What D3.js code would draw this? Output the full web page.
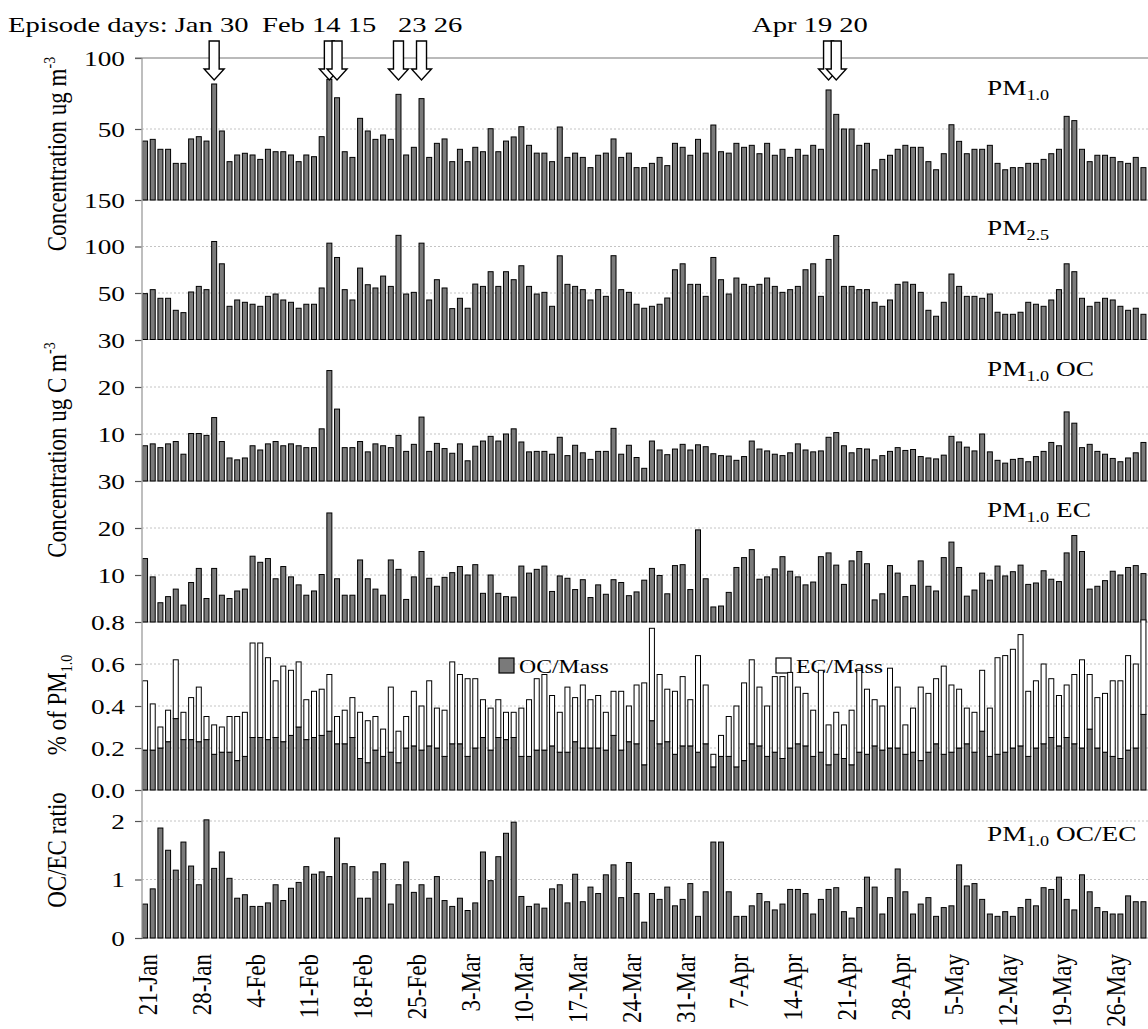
<!DOCTYPE html>
<html lang="en">
<head>
<meta charset="utf-8" />
<title>PM1.0 daily series</title>
<style>
  body { margin: 0; background: #fff; }
  svg text { font-family: "Liberation Serif", "Times New Roman", serif; fill: #000; }
</style>
</head>
<body>
<script src="https://d3js.org/d3.v7.min.js"></script>
<div id="chart"></div>
<script>
// daily values, 21 Jan .. 30 May
const pm10 = [
  41.5, 42.7, 35.7, 35.7, 25.8, 25.8, 43, 44.6, 41.5, 81.7,
  48.6, 27, 31.7, 32.9, 31.7, 28.6, 35.7, 34, 34, 31.7,
  27, 31.7, 30.5, 44.6, 85, 72, 34, 30, 57.5, 48.6,
  42.7, 45.8, 42.7, 74.4, 31.7, 37.1, 71.4, 30, 39.9, 43,
  27, 35.7, 27, 37.1, 34, 50.2, 34, 41.5, 44.4, 51.6,
  38.5, 33, 33, 27, 51.4, 30, 33, 30, 22.8, 31.5,
  33, 43, 30, 33, 22.8, 22.8, 25.8, 30, 24.2, 39.9,
  37.1, 31.5, 42.7, 33, 52.8, 34, 33, 39.9, 37.1, 38.5,
  32.6, 39.9, 31.5, 35.7, 30, 35.7, 31.5, 38.5, 35.7, 77.5,
  60.3, 50, 50, 38.5, 39.9, 21.3, 28.6, 31.5, 35.7, 38.5,
  37.1, 37.1, 27, 21.3, 32.6, 53, 41.3, 32.6, 35.7, 35.7,
  38.5, 25.8, 21.3, 22.8, 22.8, 25.8, 25.8, 28.6, 32.6, 35.7,
  58.9, 55.9, 35.7, 27, 31.5, 31.5, 30, 27, 25.8, 30,
  22.8
];
const pm25 = [
  49.3, 53.6, 44.3, 44.3, 31.4, 28.9, 51.1, 57.1, 53.6, 105.4,
  81.4, 35.7, 42.5, 40, 37.9, 35.7, 46.4, 48.9, 42.5, 40,
  33.6, 37.9, 37.9, 55.4, 103.6, 88.2, 53.6, 42.5, 76.8, 58.9,
  55.4, 68.2, 57.1, 112, 48.9, 50.7, 103.6, 42.5, 64.3, 55.4,
  33.2, 44.3, 33.6, 59.6, 57.1, 72.9, 57.1, 72.9, 64.3, 79.3,
  57.1, 48.9, 50.7, 35.7, 90, 59.3, 57.1, 53.6, 42.5, 53.6,
  46.4, 90.1, 53.6, 50.7, 37.9, 33.6, 35.7, 37.9, 44.6, 75,
  81.4, 59.3, 59.3, 46.4, 88.2, 64.3, 48.9, 66.1, 59.3, 57.1,
  59.3, 66.1, 57.1, 50.7, 53.6, 57.1, 75, 81.4, 46.4, 86.1,
  111.8, 57.1, 57.1, 53.6, 53.6, 40, 35.7, 42.5, 59.3, 61.8,
  59.3, 50.7, 31.4, 25, 40, 70.4, 57.1, 46.4, 46.4, 44.3,
  48.9, 29.3, 27.1, 27.1, 29.3, 40, 37.9, 35.7, 42.5, 53.6,
  81.4, 72.9, 44.3, 35.7, 40, 44.3, 42.5, 35.7, 31.4, 33.6,
  27.1
];
const oc = [
  7.5, 7.9, 7.1, 7.9, 8.4, 5.7, 10.1, 10.1, 9.7, 13.5,
  8.4, 4.9, 4.5, 4.9, 7.5, 6.6, 7.9, 8.4, 7.5, 7.9,
  7.5, 7.1, 7.1, 11.1, 23.5, 15.3, 7.1, 7.1, 8.4, 6.2,
  7.9, 7.5, 7.1, 9.7, 6.3, 7.8, 13.6, 6.3, 8.0, 6.9,
  5.9, 7.9, 4.3, 7.4, 8.5, 9.5, 8.5, 10.0, 11.1, 8.3,
  6.2, 6.3, 6.3, 5.7, 9.3, 5.4, 7.6, 6.0, 4.6, 6.3,
  6.3, 11.2, 5.7, 7.6, 5.0, 2.7, 8.5, 6.6, 5.6, 6.8,
  7.8, 6.6, 7.7, 7.3, 5.8, 5.4, 5.3, 4.4, 5.2, 8.5,
  6.8, 6.4, 5.7, 5.4, 6.0, 7.9, 6.6, 6.2, 6.4, 9.3,
  10.3, 7.5, 6.0, 6.9, 6.8, 4.5, 5.4, 6.3, 7.1, 6.5,
  6.7, 5.2, 4.9, 4.7, 5.5, 9.5, 8.3, 7.2, 6.4, 10.0,
  6.2, 4.4, 3.8, 4.6, 4.8, 4.1, 5.2, 6.3, 8.2, 7.5,
  14.7, 12.3, 7.1, 7.8, 6.3, 5.7, 4.8, 4.1, 4.9, 6.0,
  8.2
];
const ec = [
  13.5, 9.6, 4.1, 5.4, 7.0, 3.6, 8.4, 11.4, 5.0, 11.4,
  5.7, 5.0, 6.6, 7.0, 14.0, 12.7, 13.5, 9.2, 11.8, 9.6,
  7.9, 5.7, 6.6, 10.1, 23.2, 9.2, 5.7, 5.7, 13.2, 9.2,
  7.0, 5.7, 13.2, 11.2, 4.8, 9.6, 15.0, 9.3, 7.6, 9.5,
  10.5, 11.8, 10.0, 12.2, 6.1, 10.0, 6.1, 5.4, 5.3, 11.9,
  10.4, 11.2, 11.9, 6.5, 9.8, 9.3, 6.9, 9.0, 5.2, 7.9,
  5.9, 9.0, 8.4, 5.6, 6.4, 8.9, 11.4, 9.9, 6.0, 12.0,
  12.2, 6.9, 19.6, 9.2, 3.2, 3.4, 6.3, 11.6, 13.7, 15.4,
  9.1, 9.6, 11.3, 13.9, 10.8, 9.6, 7.9, 8.5, 13.9, 14.7,
  12.1, 8.0, 13.0, 15.0, 12.4, 4.7, 6.0, 12.0, 10.4, 5.4,
  7.8, 13.0, 7.6, 6.6, 13.7, 17.0, 11.6, 5.5, 6.8, 10.4,
  8.9, 11.9, 9.8, 10.7, 12.1, 8.0, 8.3, 10.9, 9.1, 8.6,
  14.7, 18.4, 15.0, 7.0, 7.6, 8.8, 10.8, 10.0, 11.6, 12.0,
  10.3
];
const ocMass = [
  .19, .19, .20, .23, .34, .24, .24, .23, .24, .17,
  .18, .18, .14, .16, .25, .25, .24, .25, .23, .26,
  .30, .24, .25, .26, .28, .22, .22, .25, .15, .13,
  .19, .16, .18, .13, .20, .21, .19, .21, .20, .16,
  .22, .22, .16, .20, .25, .19, .25, .24, .25, .16,
  .16, .19, .19, .21, .18, .18, .23, .20, .20, .20,
  .19, .26, .19, .23, .22, .12, .33, .22, .23, .17,
  .21, .21, .18, .22, .11, .16, .16, .11, .14, .22,
  .21, .16, .18, .15, .20, .22, .21, .16, .18, .12,
  .17, .15, .12, .18, .17, .21, .19, .20, .20, .17,
  .18, .14, .18, .22, .17, .18, .20, .22, .18, .28,
  .16, .17, .18, .20, .21, .16, .20, .22, .25, .21,
  .25, .22, .20, .29, .20, .18, .16, .15, .19, .20,
  .36
];
const ecMass = [
  .33, .22, .10, .15, .28, .13, .20, .26, .11, .14,
  .12, .17, .21, .21, .45, .45, .39, .27, .36, .31,
  .31, .19, .22, .22, .27, .13, .16, .19, .22, .20,
  .16, .13, .31, .15, .15, .26, .21, .31, .19, .22,
  .39, .33, .37, .33, .18, .20, .18, .13, .12, .23,
  .27, .34, .36, .24, .19, .31, .21, .30, .23, .25,
  .18, .21, .28, .17, .28, .39, .44, .33, .25, .30,
  .33, .22, .46, .28, .06, .10, .19, .29, .37, .40,
  .28, .24, .36, .39, .36, .27, .25, .22, .39, .19,
  .20, .16, .26, .39, .31, .22, .21, .38, .29, .14,
  .21, .35, .28, .31, .42, .32, .28, .17, .19, .29,
  .23, .46, .46, .47, .53, .31, .32, .38, .28, .24,
  .25, .33, .42, .26, .24, .28, .36, .37, .45, .40,
  .45
];
const ocEcRatio = [
  .58, .84, 1.88, 1.50, 1.16, 1.64, 1.23, .91, 2.02, 1.19,
  1.47, 1.02, .68, .74, .54, .54, .60, .91, .64, .85,
  .95, 1.22, 1.09, 1.13, 1.05, 1.71, 1.27, 1.22, .68, .68,
  1.13, 1.27, .58, .91, 1.30, .78, .91, .68, 1.05, .64,
  .54, .68, .47, .60, 1.47, .98, 1.39, 1.79, 1.98, .71,
  .54, .58, .51, .84, .91, .60, 1.09, .62, .87, .76,
  1.08, 1.25, .69, 1.29, .76, .27, .76, .66, .87, .55,
  .66, .93, .37, .79, 1.64, 1.64, .79, .37, .37, .55,
  .76, .62, .48, .58, .83, .83, .76, .41, .66, .83,
  .86, .45, .34, .52, 1.04, .87, .41, .69, 1.18, .79,
  .41, .58, .69, .37, .52, .55, 1.25, .89, .93, .66,
  .41, .37, .45, .37, .52, .66, .55, .86, .83, 1.04,
  .66, .48, 1.08, .79, .52, .45, .41, .41, .72, .62,
  .62
];

// date ticks every 7 days starting at the first bar
const dateLabels = ["21-Jan", "28-Jan", "4-Feb", "11-Feb", "18-Feb", "25-Feb", "3-Mar",
  "10-Mar", "17-Mar", "24-Mar", "31-Mar", "7-Apr", "14-Apr", "21-Apr", "28-Apr",
  "5-May", "12-May", "19-May", "26-May"];

// episode days (index of the bar) and the header texts
const episodeDays = [9, 24, 25, 33, 36, 89, 90];
const episodeTexts = [
  {text: "Episode days: Jan 30", x: 8},
  {text: "Feb 14 15", x: 262},
  {text: "23 26", x: 398},
  {text: "Apr 19 20", x: 752}
];

const W = 1148, H = 1029;
const sx = 1.3;     // the source figure is stretched sideways, glyphs included
const axisX = 142;

const svg = d3.select("#chart").append("svg")
    .attr("width", W)
    .attr("height", H);

const step = 7.68;
const x = d3.scaleBand()
    .domain(d3.range(pm10.length))
    .range([141.2, 141.2 + pm10.length * step])
    .paddingInner(0.35)
    .paddingOuter(0.175);
const bw = x.bandwidth();

// panels stacked top to bottom
const panels = [
  {key: "pm10", values: pm10, domain: [0, 100], range: [200, 58], ticks: [100, 50], grid: [50], fmt: d3.format("d")},
  {key: "pm25", values: pm25, domain: [0, 150], range: [339.5, 200], ticks: [150, 100, 50], grid: [100, 50], fmt: d3.format("d")},
  {key: "oc", values: oc, domain: [0, 30], range: [481, 340], ticks: [30, 20, 10], grid: [20, 10], fmt: d3.format("d")},
  {key: "ec", values: ec, domain: [0, 30], range: [622, 481], ticks: [30, 20, 10], grid: [20, 10], fmt: d3.format("d")},
  {key: "mass", values: null, domain: [0, 0.8], range: [790, 622], ticks: [0.8, 0.6, 0.4, 0.2, 0], grid: [0.6, 0.4, 0.2], fmt: d3.format(".1f")},
  {key: "ratio", values: ocEcRatio, domain: [0, 2.53], range: [938, 790], ticks: [2, 1, 0], grid: [2, 1], fmt: d3.format("d")}
];
panels.forEach(p => p.y = d3.scaleLinear().domain(p.domain).range(p.range));
const yBottom = panels[5].y(0);

// dotted grid
panels.forEach(p => {
  svg.append("g").selectAll("line")
    .data(p.grid)
    .join("line")
      .attr("x1", axisX).attr("x2", W)
      .attr("y1", d => p.y(d)).attr("y2", d => p.y(d))
      .attr("stroke", "#c4c4c4")
      .attr("stroke-dasharray", "2,2");
  svg.append("line")
      .attr("x1", axisX).attr("x2", W)
      .attr("y1", p.y(0)).attr("y2", p.y(0))
      .attr("stroke", "#b0b0b0");
});

// legend of the mass fraction panel, sits behind the bars
const legend = [
  {name: "OC/Mass", fill: "#7a7a7a", x: 499},
  {name: "EC/Mass", fill: "#fff", x: 776}
];
legend.forEach(l => {
  svg.append("rect")
      .attr("x", l.x).attr("y", 658)
      .attr("width", 15).attr("height", 15)
      .attr("fill", l.fill).attr("stroke", "#000").attr("stroke-width", 1.2);
  svg.append("text")
      .attr("transform", `translate(${l.x + 20},673) scale(1.25,1)`)
      .attr("font-size", 19)
      .text(l.name);
});

// bars
panels.filter(p => p.values).forEach(p => {
  svg.append("g").selectAll("rect")
    .data(p.values)
    .join("rect")
      .attr("x", (d, i) => x(i))
      .attr("y", d => p.y(d))
      .attr("width", bw)
      .attr("height", d => p.y(0) - p.y(d))
      .attr("fill", "#7a7a7a")
      .attr("stroke", "#000")
      .attr("stroke-width", 1);
});

// stacked OC/Mass + EC/Mass
const massP = panels[4];
const massRows = ocMass.map((d, i) => ({i: i, oc: d, ec: ecMass[i]}));
const stacked = d3.stack().keys(["oc", "ec"])(massRows);
const stackFill = {oc: "#7a7a7a", ec: "#fff"};
svg.append("g").selectAll("g")
  .data(stacked)
  .join("g")
    .attr("fill", s => stackFill[s.key])
  .selectAll("rect")
  .data(s => s)
  .join("rect")
    .attr("x", d => x(d.data.i))
    .attr("y", d => massP.y(d[1]))
    .attr("width", bw)
    .attr("height", d => massP.y(d[0]) - massP.y(d[1]))
    .attr("stroke", "#000")
    .attr("stroke-width", 1);

// y axes
panels.forEach(p => {
  const g = svg.append("g")
      .attr("transform", `translate(${axisX},0)`)
      .call(d3.axisLeft(p.y).tickValues(p.ticks).tickSize(7).tickFormat(p.fmt));
  g.select(".domain").remove();
  g.selectAll(".tick line").attr("stroke", "#555").attr("stroke-width", 1.2);
  g.selectAll(".tick text")
      .attr("x", null)
      .attr("dy", "0.34em")
      .attr("transform", `translate(-17,0) scale(${sx},1)`)
      .attr("font-size", 21);
});

// left axis line and top frame line
svg.append("line")
    .attr("x1", axisX).attr("x2", axisX)
    .attr("y1", 58).attr("y2", yBottom)
    .attr("stroke", "#a8a8a8").attr("stroke-width", 1.5);
svg.append("line")
    .attr("x1", 135).attr("x2", W)
    .attr("y1", 58).attr("y2", 58)
    .attr("stroke", "#777").attr("stroke-width", 1.2);

// x axis with rotated dates
const xg = svg.append("g")
    .attr("transform", `translate(0,${yBottom})`)
    .call(d3.axisBottom(x)
      .tickValues(d3.range(0, pm10.length, 7))
      .tickSize(0)
      .tickFormat((d, k) => dateLabels[k]));
xg.select(".domain").remove();
xg.selectAll(".tick text")
    .attr("y", null)
    .attr("dy", null)
    .attr("text-anchor", "end")
    .attr("transform", `translate(12,16) scale(1.2,1) rotate(-90)`)
    .attr("font-size", 23);

// episode arrows
svg.append("g").selectAll("path")
  .data(episodeDays)
  .join("path")
    .attr("d", i => {
      const c = x(i) + bw / 2;
      return `M${c - 5},41 H${c + 5} V69 H${c + 10} L${c},80 L${c - 10},69 H${c - 5} Z`;
    })
    .attr("fill", "#fff")
    .attr("stroke", "#000")
    .attr("stroke-width", 1.4);

svg.append("g").selectAll("text")
  .data(episodeTexts)
  .join("text")
    .attr("transform", d => `translate(${d.x},32) scale(${sx},1)`)
    .attr("font-size", 22)
    .text(d => d.text);

// panel names
const panelNames = [
  {main: "PM", sub: "1.0", tail: "", y: 95},
  {main: "PM", sub: "2.5", tail: "", y: 235},
  {main: "PM", sub: "1.0", tail: " OC", y: 376},
  {main: "PM", sub: "1.0", tail: " EC", y: 517},
  {main: "PM", sub: "1.0", tail: " OC/EC", y: 841}
];
panelNames.forEach(n => {
  const t = svg.append("text")
      .attr("transform", `translate(987,${n.y}) scale(${sx},1)`)
      .attr("font-size", 21);
  t.append("tspan").text(n.main);
  t.append("tspan").attr("font-size", 14).attr("dy", 5).text(n.sub);
  if (n.tail) t.append("tspan").attr("dy", -5).text(n.tail);
});

// y titles
function yTitle(cy, parts) {
  const t = svg.append("text")
      .attr("transform", `translate(66,${cy}) scale(1.2,1) rotate(-90)`)
      .attr("text-anchor", "middle")
      .attr("font-size", 23);
  parts.forEach(p => {
    const s = t.append("tspan").text(p.t);
    if (p.sup) s.attr("font-size", 14).attr("dy", -9);
    if (p.sub) s.attr("font-size", 14).attr("dy", 5);
  });
}
yTitle(154, [{t: "Concentration ug m"}, {t: "-3", sup: true}]);
yTitle(450, [{t: "Concentration ug C m"}, {t: "-3", sup: true}]);
yTitle(705, [{t: "% of PM"}, {t: "1.0", sub: true}]);
yTitle(850, [{t: "OC/EC ratio"}]);
</script>
</body>
</html>
